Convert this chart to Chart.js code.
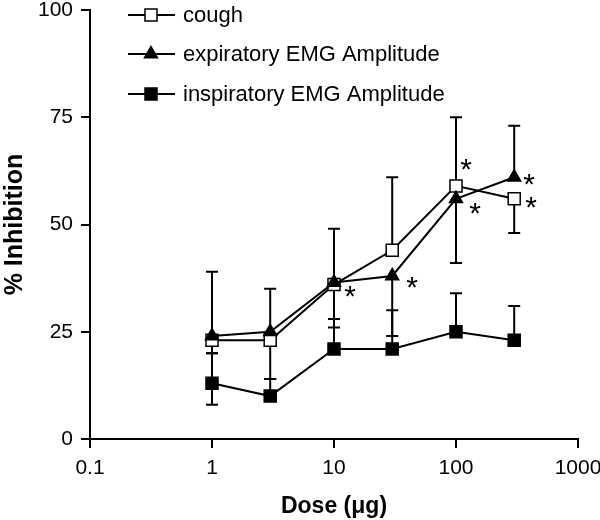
<!DOCTYPE html>
<html>
<head>
<meta charset="utf-8">
<script src="https://cdn.jsdelivr.net/npm/chart.js@4.4.0/dist/chart.umd.min.js"></script>
<style>
  html, body { margin: 0; padding: 0; background: #fff; }
</style>
</head>
<body>
<canvas id="chDose" width="600" height="520"></canvas>
<script>
// doses and tick values
const doses = [1, 3, 10, 30, 100, 300];
const xTicks = [0.1, 1, 10, 100, 1000];
const yTicks = [0, 25, 50, 75, 100];
const seriesNames = ["cough", "expiratory EMG Amplitude", "inspiratory EMG Amplitude"];

// % inhibition, with the error bar ends (null = none drawn)
const cough = [23, 23, 36, 44, 59, 56];
const coughHi = [39, 35, 49, 61, 75, null];
const coughLo = [null, null, null, null, null, 48];
const coughStar = [false, false, false, false, true, true];

const expir = [24, 25, 36.5, 38, 56, 61];
const expirHi = [null, null, null, null, null, 73];
const expirLo = [20, 14, 26, 24, 41, null];
const expirStar = [false, false, true, true, true, true];

const inspir = [13, 10, 21, 21, 25, 23];
const inspirHi = [20, 14, 28, 30, 34, 31];
const inspirLo = [8, null, null, null, null, null];
const inspirStar = [false, false, false, false, false, false];

const FONT = "'Liberation Sans', Arial, Helvetica, sans-serif";

function pts(vals) {
  return doses.map(function (d, i) { return { x: d, y: vals[i] }; });
}

// marker look per series (used by datasets and by the legend)
const markers = [
  { style: "rect", radius: 8.5, fill: "#fff" },
  { style: "triangle", radius: 7.5, fill: "#000" },
  { style: "rect", radius: 8.5, fill: "#000" },
];

function drawMarker(ctx, m, x, y) {
  ctx.save();
  ctx.beginPath();
  if (m.style === "rect") {
    var s = m.radius * Math.SQRT1_2;
    ctx.rect(x - s, y - s, 2 * s, 2 * s);
  } else {
    var r = m.radius;
    ctx.moveTo(x, y - r);
    ctx.lineTo(x + Math.sin(2 * Math.PI / 3) * r, y - Math.cos(2 * Math.PI / 3) * r);
    ctx.lineTo(x - Math.sin(2 * Math.PI / 3) * r, y - Math.cos(2 * Math.PI / 3) * r);
    ctx.closePath();
  }
  ctx.fillStyle = m.fill;
  ctx.fill();
  ctx.lineWidth = 1.5;
  ctx.strokeStyle = "#000";
  ctx.stroke();
  ctx.restore();
}

// error bars (drawn under the lines and markers)
const errorBars = {
  id: "errorBars",
  beforeDatasetsDraw: function (chart) {
    var ctx = chart.ctx, xs = chart.scales.x, ys = chart.scales.y;
    var sets = [[cough, coughHi, coughLo], [expir, expirHi, expirLo], [inspir, inspirHi, inspirLo]];
    ctx.save();
    ctx.strokeStyle = "#000";
    ctx.lineWidth = 2;
    sets.forEach(function (s) {
      doses.forEach(function (d, i) {
        var px = xs.getPixelForValue(d);
        var py = ys.getPixelForValue(s[0][i]);
        [s[1][i], s[2][i]].forEach(function (end) {
          if (end === null) return;
          var ey = ys.getPixelForValue(end);
          ctx.beginPath();
          ctx.moveTo(px, py);
          ctx.lineTo(px, ey);
          ctx.moveTo(px - 6, ey);
          ctx.lineTo(px + 6, ey);
          ctx.stroke();
        });
      });
    });
    ctx.restore();
  },
};

// significance asterisks next to the points
const starNudge = { "0:4": [10, -23], "1:2": [16, 8], "1:3": [20, 5], "1:4": [19, 8], "1:5": [15, 1], "0:5": [17, 2] };
const stars = {
  id: "stars",
  afterDatasetsDraw: function (chart) {
    var ctx = chart.ctx, xs = chart.scales.x, ys = chart.scales.y;
    var sets = [[cough, coughStar], [expir, expirStar], [inspir, inspirStar]];
    ctx.save();
    ctx.fillStyle = "#000";
    ctx.font = "30px " + FONT;
    ctx.textAlign = "center";
    ctx.textBaseline = "alphabetic";
    sets.forEach(function (s, k) {
      s[1].forEach(function (on, i) {
        if (!on) return;
        var n = starNudge[k + ":" + i] || [17, 3];
        var px = xs.getPixelForValue(doses[i]) + n[0];
        var py = ys.getPixelForValue(s[0][i]) + n[1];
        ctx.fillText("*", px, py + 16);
      });
    });
    ctx.restore();
  },
};

// legend: line segment with marker, then the label
const lineLegend = {
  id: "lineLegend",
  afterDraw: function (chart) {
    var ctx = chart.ctx;
    var rows = [15, 54, 94];
    ctx.save();
    seriesNames.forEach(function (name, k) {
      var y = rows[k];
      ctx.strokeStyle = "#000";
      ctx.lineWidth = 2;
      ctx.beginPath();
      ctx.moveTo(128, y);
      ctx.lineTo(175, y);
      ctx.stroke();
      drawMarker(ctx, markers[k], 151, y);
      ctx.fillStyle = "#000";
      ctx.font = "22px " + FONT;
      ctx.textAlign = "left";
      ctx.textBaseline = "middle";
      ctx.fillText(name, 183, y + 1);
    });
    ctx.restore();
  },
};

function mkSet(label, vals, k, order) {
  var m = markers[k];
  return {
    label: label,
    data: pts(vals),
    order: order,
    borderColor: "#000",
    borderWidth: 2,
    backgroundColor: m.fill,
    pointStyle: m.style,
    pointRadius: m.radius,
    pointHoverRadius: m.radius,
    pointBorderColor: "#000",
    pointBackgroundColor: m.fill,
    pointBorderWidth: 1.5,
    tension: 0,
    fill: false,
  };
}

const config = {
  type: "line",
  data: {
    datasets: [
      mkSet(seriesNames[0], cough, 0, 1),
      mkSet(seriesNames[1], expir, 1, 0),
      mkSet(seriesNames[2], inspir, 2, 2),
    ],
  },
  options: {
    responsive: false,
    animation: false,
    layout: { padding: { left: 0, right: 22, top: 6, bottom: 0 } },
    plugins: {
      legend: { display: false },
      tooltip: { enabled: false },
    },
    scales: {
      x: {
        type: "logarithmic",
        min: 0.1,
        max: 1000,
        afterBuildTicks: function (s) {
          s.ticks = xTicks.map(function (v) { return { value: v }; });
        },
        afterFit: function (s) {
          s.height = 81;
          s.paddingRight = 0;
        },
        grid: { drawOnChartArea: false, tickLength: 9, color: "#000", lineWidth: 2 },
        border: { color: "#000", width: 2 },
        ticks: {
          color: "#000",
          font: { family: FONT, size: 21 },
          padding: 8,
          autoSkip: false,
          maxRotation: 0,
          callback: function (v) { return String(v); },
        },
        title: {
          display: true,
          text: "Dose (\u03bcg)",
          color: "#000",
          font: { family: FONT, size: 23, weight: "bold" },
          padding: { top: 0, bottom: 0 },
        },
      },
      y: {
        type: "linear",
        min: 0,
        max: 100,
        afterBuildTicks: function (s) {
          s.ticks = yTicks.map(function (v) { return { value: v }; });
        },
        afterFit: function (s) {
          s.width = 90;
          s.paddingTop = 0;
          s.paddingBottom = 0;
        },
        grid: { drawOnChartArea: false, tickLength: 9, color: "#000", lineWidth: 2 },
        border: { color: "#000", width: 2 },
        ticks: {
          color: "#000",
          font: { family: FONT, size: 21 },
          padding: 8,
        },
        title: {
          display: true,
          text: "% Inhibition",
          color: "#000",
          font: { family: FONT, size: 25, weight: "bold" },
          padding: { top: 0, bottom: 0 },
        },
      },
    },
  },
  plugins: [errorBars, stars, lineLegend],
};

var myChart = new Chart(document.getElementById("chDose"), config);
</script>
</body>
</html>
